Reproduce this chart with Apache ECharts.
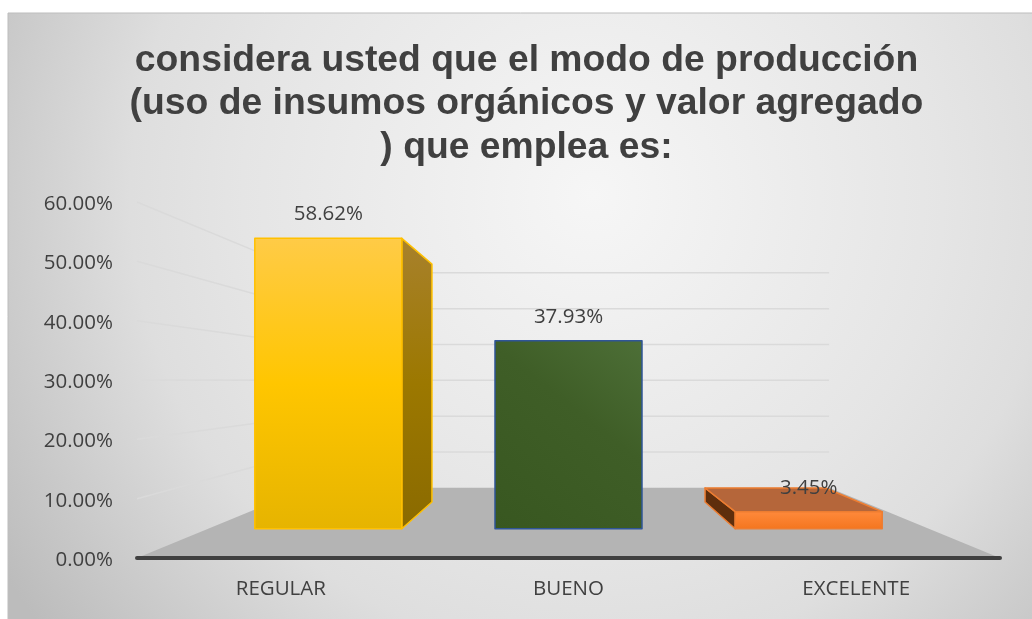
<!DOCTYPE html>
<html>
<head>
<meta charset="utf-8">
<style>html,body{margin:0;padding:0;background:#fff}#c{width:1032px;height:619px}</style>
<script src="https://cdn.jsdelivr.net/npm/echarts@6/dist/echarts.min.js"></script>
</head>
<body>
<div id="c"></div>
<script>
const titleLines = ['considera usted que el modo de producción', '(uso de insumos orgánicos y valor agregado', ') que emplea es:'];
const categories = ['REGULAR', 'BUENO', 'EXCELENTE'];
const values = [58.62, 37.93, 3.45];
const valueTicks = [10, 20, 30, 40, 50, 60];

// depth planes of the 3D view, as scale toward the vanishing point
const vanishValue = 29.85, backPlane = 0.604, barFront = 0.835, barBack = 0.684, barHalf = 0.306;

const faces = [
  {border:'#ffc000', bw:1.5,
   front:[[0,'#ffcb47'],[0.5,'#ffc600'],[1,'#e6b400']], dir:[0,0,0,1],
   side:[[0,'#a8812c'],[0.5,'#9c7800'],[1,'#8a6a00']]},
  {border:'#2f5597', bw:1.5,
   front:[[0,'#385720'],[0.6,'#3f5e27'],[1,'#4d6f37']], dir:[0,1,1,0],
   side:[[0,'#2a3f18'],[1,'#2a3f18']]},
  {border:'#ed7d31', bw:1.5,
   front:[[0,'#ff8a3c'],[1,'#f4751e']], dir:[0,0,0,1],
   side:[[0,'#5e2e0c'],[1,'#5e2e0c']], top:'#b5663a'}
];

function lin(dir, stops){
  return {type:'linear',x:dir[0],y:dir[1],x2:dir[2],y2:dir[3],
    colorStops:stops.map(s=>({offset:s[0],color:s[1]}))};
}
function projector(api){
  const v = api.coord([1, vanishValue]);
  return (p, s) => [v[0] + s*(p[0]-v[0]), v[1] + s*(p[1]-v[1])];
}
function renderFloor(params, api){
  const band = api.size([1,0])[0], pr = projector(api);
  const a = api.coord([0,0]), b = api.coord([categories.length-1,0]);
  const l = [a[0]-band/2, a[1]], r = [b[0]+band/2, b[1]];
  return {type:'polygon', shape:{points:[l, r, pr(r,backPlane), pr(l,backPlane)]},
    style:{fill:'#b4b4b4'}, silent:true};
}
function renderGrid(params, api){
  const band = api.size([1,0])[0], pr = projector(api);
  const val = api.value(0);
  const a = api.coord([0,val]), b = api.coord([categories.length-1,val]);
  const l = [a[0]-band/2, a[1]], r = [b[0]+band/2, b[1]];
  const st = {stroke:'#dadada', lineWidth:1.5, fill:'none'};
  return {type:'polyline', shape:{points:[l, pr(l,backPlane), pr(r,backPlane)]}, style:st, silent:true};
}
function renderBar(params, api){
  const i = api.value(0), val = api.value(1), f = faces[i];
  const band = api.size([1,0])[0], pr = projector(api);
  const top = api.coord([i,val]), base = api.coord([i,0]);
  const hw = band*barHalf;
  const TL=[top[0]-hw,top[1]], TR=[top[0]+hw,top[1]], BL=[base[0]-hw,base[1]], BR=[base[0]+hw,base[1]];
  const stroke = {stroke:f.border, lineWidth:f.bw, lineJoin:'round'};
  const children = [];
  const F = p => pr(p,barFront), K = p => pr(p,barBack);
  const vp = api.coord([1,vanishValue]);
  if (F(TL)[0] > vp[0]) children.push({type:'polygon',shape:{points:[K(TL),F(TL),F(BL),K(BL)]},style:Object.assign({fill:lin([0,0,0,1],f.side)},stroke)});
  if (F(TR)[0] < vp[0]) children.push({type:'polygon',shape:{points:[F(TR),K(TR),K(BR),F(BR)]},style:Object.assign({fill:lin([0,0,0,1],f.side)},stroke)});
  if (F(TL)[1] > vp[1]) children.push({type:'polygon',shape:{points:[K(TL),K(TR),F(TR),F(TL)]},style:Object.assign({fill:f.top||'#888'},stroke)});
  children.push({type:'polygon',shape:{points:[F(TL),F(TR),F(BR),F(BL)]},style:Object.assign({fill:lin(f.dir,f.front)},stroke)});
  const ft = F(top);
  children.push({type:'text',z2:50,style:{x:ft[0],y:ft[1]-24,text:val.toFixed(2)+'%',fill:'#404040',
    font:'20.5px "Open Sans"',align:'center',verticalAlign:'middle'}});
  return {type:'group',children};
}

const chart = echarts.init(document.getElementById('c'), null, {renderer:'canvas'});
chart.setOption({
  animation:false,
  backgroundColor:'#ffffff',
  graphic:[{type:'rect',z:-100,silent:true,shape:{x:8,y:13,width:1026,height:608},
    style:{stroke:'#bdbdbd',lineWidth:1,
      fill:{type:'radial',x:0.57,y:0.3,r:1.15,colorStops:[
        {offset:0,color:'#f6f6f6'},{offset:0.5,color:'#e5e5e5'},{offset:0.66,color:'#dedede'},
        {offset:0.8,color:'#d0d0d0'},{offset:1,color:'#bcbcbc'}]}}}],
  title:{text:titleLines.join('\n'),left:521.5,top:33.5,textAlign:'center',
    textStyle:{fontFamily:'"Liberation Sans"',fontWeight:'bold',fontSize:37.3,lineHeight:43.5,color:'#404040'}},
  grid:{left:137,right:32,top:202,bottom:61,containLabel:false},
  xAxis:{type:'category',data:categories,boundaryGap:true,z:5,
    axisTick:{show:false},
    axisLine:{show:true,lineStyle:{color:'#404040',width:4,cap:'round'}},
    axisLabel:{margin:21,fontFamily:'"Open Sans"',fontSize:20.5,color:'#404040'},
    splitLine:{show:false}},
  yAxis:{type:'value',min:0,max:60,interval:10,
    axisLine:{show:false},axisTick:{show:false},splitLine:{show:false},
    axisLabel:{margin:24,
      formatter:v=>'{a|'+v.toFixed(2)+'%}',
      rich:{a:{padding:[4,0,0,0],fontFamily:'"Open Sans"',fontSize:20.5,color:'#404040'}}}},
  series:[
    {type:'custom',name:'piso',coordinateSystem:'cartesian2d',renderItem:renderFloor,data:[[0]],encode:{x:0},z:1,clip:false,silent:true},
    {type:'custom',name:'rejilla',coordinateSystem:'cartesian2d',renderItem:renderGrid,data:valueTicks.map(v=>[v]),encode:{y:0},z:2,clip:false,silent:true},
    {type:'custom',name:'modo de producción',coordinateSystem:'cartesian2d',renderItem:renderBar,
      data:values.map((v,i)=>[i,v]),encode:{x:0,y:1},z:3,clip:false}
  ]
});
</script>
</body>
</html>
